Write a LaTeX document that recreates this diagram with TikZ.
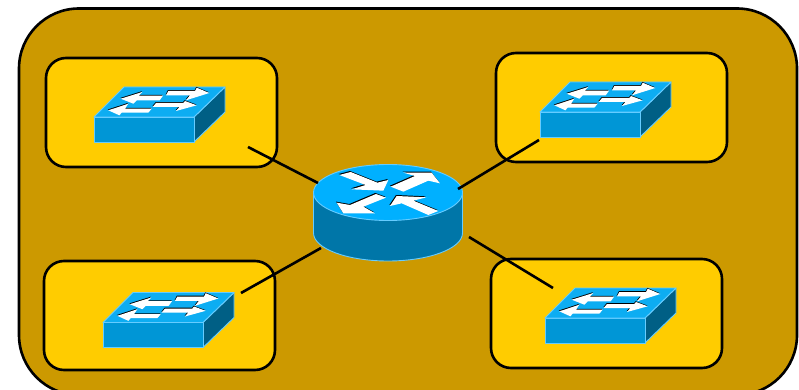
\documentclass[tikz,border=0pt]{standalone}
\definecolor{outerc}{HTML}{CC9900}
\definecolor{innerc}{HTML}{FFCC00}
\definecolor{swtop}{HTML}{0DADF2}
\definecolor{swfront}{HTML}{0096D6}
\definecolor{swside}{HTML}{005F85}
\definecolor{swedge}{HTML}{66CCFF}
\definecolor{rttop}{HTML}{00B0FF}
\definecolor{rtside}{HTML}{0076A8}
\tikzset{
  zonebox/.style={draw=black,fill=innerc,line width=2.6pt,rounded corners=20pt,minimum width=231pt,minimum height=109pt,inner sep=0pt,outer sep=0pt},
  linkline/.style={draw=black,line width=2.6pt},
  iconedge/.style={draw=swedge,line width=0.9pt,line join=round},
  swarrow/.style={fill=white,draw=none},
  swshadow/.style={fill=black,draw=none},
  switchicon/.pic={
    \path[iconedge,fill=swside] (100,0)--(131,-30)--(131,-5)--(100,25)--cycle;
    \path[iconedge,fill=swfront] (0,0) rectangle (100,25);
    \path[iconedge,fill=swtop] (0,0)--(30,-30)--(131,-30)--(100,0)--cycle;
    \foreach \st/\dx/\dy in {swshadow/-0.4/-0.8,swarrow/0/0}{
      \begin{scope}[shift={(\dx,\dy)}]
      \fill[\st] (26.7,-18.3)--(48.3,-25)--(44.7,-21.3)--(69,-21.3)--(65.7,-16.7)--(42.7,-16.7)--(39.3,-13.3)--cycle;
      \fill[\st] (115.3,-24)--(102.7,-29.3)--(101,-26)--(74.3,-26)--(72,-21.7)--(96,-21.7)--(92,-16.7)--cycle;
      \fill[\st] (102.7,-11.7)--(91,-16)--(89.3,-14)--(62,-14)--(58.7,-10)--(85.3,-10)--(82,-6)--cycle;
      \fill[\st] (14.3,-6.7)--(34.3,-13.3)--(31,-8.3)--(57.7,-8.3)--(54.3,-4.3)--(27.7,-4.3)--(25.3,-1.7)--cycle;
      \end{scope}
    }
  }
}
\begin{document}
\begin{tikzpicture}[x=1pt,y=-1pt]
\useasboundingbox (0,0) rectangle (799,390);
\clip (0,0) rectangle (799,390);
\draw[fill=outerc,draw=black,line width=2.6pt,rounded corners=60pt] (19,8.5) rectangle (797,395);
\node[zonebox] (zoneA) at (161.5,112.5) {};
\node[zonebox] (zoneB) at (611.5,107.5) {};
\node[zonebox] (zoneC) at (159.5,315.5) {};
\node[zonebox] (zoneD) at (606.5,313.5) {};
\pic at (94,117) {switchicon};
\pic at (540,112) {switchicon};
\pic at (103,322.5) {switchicon};
\pic at (545,318) {switchicon};
\coordinate (swA) at (248,147);
\coordinate (swB) at (539,140);
\coordinate (swC) at (241,293);
\coordinate (swD) at (553,288);
\coordinate (rtA) at (318,183);
\coordinate (rtB) at (458,189);
\coordinate (rtC) at (321,248);
\coordinate (rtD) at (469,237);
% router
\path[draw=swedge,line width=0.9pt,fill=rtside] (313.5,192.5)--(313.5,233) arc[start angle=180,end angle=360,x radius=74.5,y radius=-28]--(462.5,192.5)--cycle;
\path[draw=swedge,line width=0.9pt,fill=rttop] (388,192.5) ellipse[x radius=74.5,y radius=28];
\begin{scope}[shift={(300,150)},x=0.3333pt,y=-0.3333pt]
\foreach \st/\dx/\dy in {swshadow/-2/-3,swarrow/0/0}{
  \begin{scope}[shift={(\dx,\dy)}]
  \fill[\st] (118,75)--(152,66)--(232,98)--(265,90)--(250,122)--(155,118)--(197,105)--cycle;
  \fill[\st] (272,110)--(345,78)--(310,68)--(395,68)--(420,100)--(385,92)--(310,125)--cycle;
  \fill[\st] (258,143)--(228,132)--(150,165)--(110,158)--(130,190)--(225,190)--(190,170)--cycle;
  \fill[\st] (415,183)--(385,195)--(305,160)--(270,168)--(290,138)--(380,142)--(340,152)--cycle;
  \end{scope}
}
\end{scope}
\draw[linkline] (swA)--(rtA);
\draw[linkline] (swB)--(rtB);
\draw[linkline] (swC)--(rtC);
\draw[linkline] (swD)--(rtD);
\end{tikzpicture}
\end{document}
